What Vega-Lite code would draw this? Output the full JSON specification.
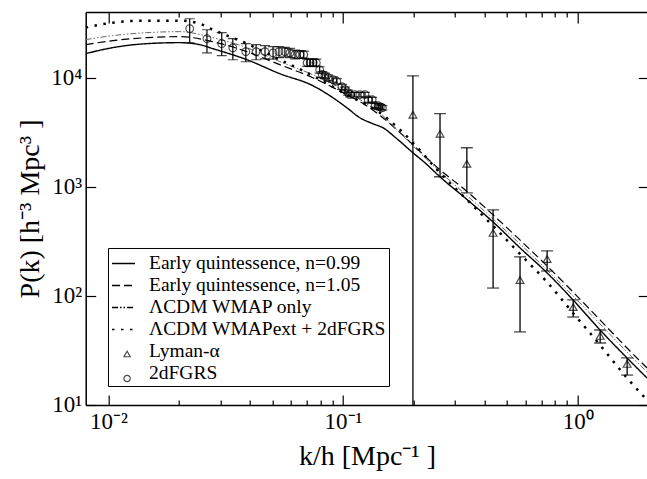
{
  "$schema": "https://vega.github.io/schema/vega-lite/v6.json",
  "width": 562.6,
  "height": 393,
  "autosize": "none",
  "padding": {"left": 85.7, "top": 12, "right": 0, "bottom": 74},
  "config": {
    "view": {"stroke": null},
    "font": "Liberation Serif",
    "legend": {"labelFont": "Liberation Serif"},
    "axis": {"labelFont": "Liberation Serif", "titleFont": "Liberation Serif", "titleFontWeight": "normal", "grid": false, "domainColor": "black", "tickColor": "black", "labelColor": "black", "titleColor": "black", "domainWidth": 1.5, "tickWidth": 1.2, "labelOverlap": false, "labelFlush": false}
  },
  "datasets": {
    "curves": [
      {"series": "Early quintessence, n=0.99", "k": 0.008, "P": 16610},
      {"series": "Early quintessence, n=0.99", "k": 0.01043, "P": 18850},
      {"series": "Early quintessence, n=0.99", "k": 0.01457, "P": 20510},
      {"series": "Early quintessence, n=0.99", "k": 0.02014, "P": 20950},
      {"series": "Early quintessence, n=0.99", "k": 0.0245, "P": 20080},
      {"series": "Early quintessence, n=0.99", "k": 0.02785, "P": 18460},
      {"series": "Early quintessence, n=0.99", "k": 0.03889, "P": 14630},
      {"series": "Early quintessence, n=0.99", "k": 0.05375, "P": 10880},
      {"series": "Early quintessence, n=0.99", "k": 0.07433, "P": 8446},
      {"series": "Early quintessence, n=0.99", "k": 0.08785, "P": 6838},
      {"series": "Early quintessence, n=0.99", "k": 0.1038, "P": 5305},
      {"series": "Early quintessence, n=0.99", "k": 0.1179, "P": 4296},
      {"series": "Early quintessence, n=0.99", "k": 0.134, "P": 3784},
      {"series": "Early quintessence, n=0.99", "k": 0.1478, "P": 3478},
      {"series": "Early quintessence, n=0.99", "k": 0.1696, "P": 2757},
      {"series": "Early quintessence, n=0.99", "k": 0.1985, "P": 2051},
      {"series": "Early quintessence, n=0.99", "k": 0.2233, "P": 1661},
      {"series": "Early quintessence, n=0.99", "k": 0.2587, "P": 1235},
      {"series": "Early quintessence, n=0.99", "k": 0.3307, "P": 793},
      {"series": "Early quintessence, n=0.99", "k": 0.4353, "P": 477},
      {"series": "Early quintessence, n=0.99", "k": 0.5674, "P": 276},
      {"series": "Early quintessence, n=0.99", "k": 0.7398, "P": 163},
      {"series": "Early quintessence, n=0.99", "k": 0.955, "P": 92},
      {"series": "Early quintessence, n=0.99", "k": 1.245, "P": 48.8},
      {"series": "Early quintessence, n=0.99", "k": 1.623, "P": 27},
      {"series": "Early quintessence, n=0.99", "k": 1.975, "P": 17.7},
      {"series": "Early quintessence, n=1.05", "k": 0.008, "P": 20080},
      {"series": "Early quintessence, n=1.05", "k": 0.01043, "P": 21850},
      {"series": "Early quintessence, n=1.05", "k": 0.01457, "P": 23280},
      {"series": "Early quintessence, n=1.05", "k": 0.02014, "P": 23780},
      {"series": "Early quintessence, n=1.05", "k": 0.02785, "P": 21390},
      {"series": "Early quintessence, n=1.05", "k": 0.03889, "P": 17320},
      {"series": "Early quintessence, n=1.05", "k": 0.05375, "P": 13160},
      {"series": "Early quintessence, n=1.05", "k": 0.07433, "P": 10000},
      {"series": "Early quintessence, n=1.05", "k": 0.1038, "P": 6983},
      {"series": "Early quintessence, n=1.05", "k": 0.1239, "P": 5653},
      {"series": "Early quintessence, n=1.05", "k": 0.1478, "P": 4296},
      {"series": "Early quintessence, n=1.05", "k": 0.1696, "P": 3334},
      {"series": "Early quintessence, n=1.05", "k": 0.1985, "P": 2428},
      {"series": "Early quintessence, n=1.05", "k": 0.2587, "P": 1432},
      {"series": "Early quintessence, n=1.05", "k": 0.3307, "P": 939},
      {"series": "Early quintessence, n=1.05", "k": 0.4353, "P": 554},
      {"series": "Early quintessence, n=1.05", "k": 0.5674, "P": 326},
      {"series": "Early quintessence, n=1.05", "k": 0.7398, "P": 188.5},
      {"series": "Early quintessence, n=1.05", "k": 0.955, "P": 108.8},
      {"series": "Early quintessence, n=1.05", "k": 1.245, "P": 60.2},
      {"series": "Early quintessence, n=1.05", "k": 1.623, "P": 33.3},
      {"series": "Early quintessence, n=1.05", "k": 1.975, "P": 21.85},
      {"series": "ΛCDM WMAP only", "k": 0.008, "P": 22320},
      {"series": "ΛCDM WMAP only", "k": 0.01043, "P": 24290},
      {"series": "ΛCDM WMAP only", "k": 0.01457, "P": 25870},
      {"series": "ΛCDM WMAP only", "k": 0.02014, "P": 26420},
      {"series": "ΛCDM WMAP only", "k": 0.02785, "P": 23280},
      {"series": "ΛCDM WMAP only", "k": 0.03889, "P": 18850},
      {"series": "ΛCDM WMAP only", "k": 0.05375, "P": 14030},
      {"series": "ΛCDM WMAP only", "k": 0.07433, "P": 10650},
      {"series": "ΛCDM WMAP only", "k": 0.1038, "P": 7438},
      {"series": "ΛCDM WMAP only", "k": 0.1239, "P": 5898},
      {"series": "ΛCDM WMAP only", "k": 0.1478, "P": 4480},
      {"series": "ΛCDM WMAP only", "k": 0.1696, "P": 3334},
      {"series": "ΛCDM WMAP only", "k": 0.1985, "P": 2377},
      {"series": "ΛCDM WMAP only", "k": 0.2587, "P": 1373},
      {"series": "ΛCDM WMAP only", "k": 0.3307, "P": 863},
      {"series": "ΛCDM WMAP only", "k": 0.4353, "P": 509},
      {"series": "ΛCDM WMAP only", "k": 0.5674, "P": 300},
      {"series": "ΛCDM WMAP only", "k": 0.7398, "P": 173},
      {"series": "ΛCDM WMAP only", "k": 0.955, "P": 100},
      {"series": "ΛCDM WMAP only", "k": 1.245, "P": 55.3},
      {"series": "ΛCDM WMAP only", "k": 1.623, "P": 30.6},
      {"series": "ΛCDM WMAP only", "k": 1.975, "P": 20.1},
      {"series": "ΛCDM WMAPext + 2dFGRS", "k": 0.008, "P": 28750},
      {"series": "ΛCDM WMAPext + 2dFGRS", "k": 0.01043, "P": 31960},
      {"series": "ΛCDM WMAPext + 2dFGRS", "k": 0.01457, "P": 33330},
      {"series": "ΛCDM WMAPext + 2dFGRS", "k": 0.02014, "P": 33330},
      {"series": "ΛCDM WMAPext + 2dFGRS", "k": 0.0245, "P": 31290},
      {"series": "ΛCDM WMAPext + 2dFGRS", "k": 0.02785, "P": 27570},
      {"series": "ΛCDM WMAPext + 2dFGRS", "k": 0.03889, "P": 20510},
      {"series": "ΛCDM WMAPext + 2dFGRS", "k": 0.05375, "P": 14630},
      {"series": "ΛCDM WMAPext + 2dFGRS", "k": 0.07433, "P": 10430},
      {"series": "ΛCDM WMAPext + 2dFGRS", "k": 0.1038, "P": 6983},
      {"series": "ΛCDM WMAPext + 2dFGRS", "k": 0.1435, "P": 4774},
      {"series": "ΛCDM WMAPext + 2dFGRS", "k": 0.1747, "P": 3334},
      {"series": "ΛCDM WMAPext + 2dFGRS", "k": 0.1985, "P": 2533},
      {"series": "ΛCDM WMAPext + 2dFGRS", "k": 0.2587, "P": 1344},
      {"series": "ΛCDM WMAPext + 2dFGRS", "k": 0.3307, "P": 793},
      {"series": "ΛCDM WMAPext + 2dFGRS", "k": 0.4353, "P": 439},
      {"series": "ΛCDM WMAPext + 2dFGRS", "k": 0.5674, "P": 243},
      {"series": "ΛCDM WMAPext + 2dFGRS", "k": 0.7398, "P": 134},
      {"series": "ΛCDM WMAPext + 2dFGRS", "k": 0.955, "P": 69.8},
      {"series": "ΛCDM WMAPext + 2dFGRS", "k": 1.245, "P": 35.5},
      {"series": "ΛCDM WMAPext + 2dFGRS", "k": 1.623, "P": 17.7},
      {"series": "ΛCDM WMAPext + 2dFGRS", "k": 1.975, "P": 11.1}
    ],
    "lya": [
      {"series": "Lyman-α", "k": 0.1985, "P": 4580, "lo": 10, "hi": 10400},
      {"series": "Lyman-α", "k": 0.259, "P": 3060, "lo": 1236, "hi": 4680},
      {"series": "Lyman-α", "k": 0.337, "P": 1625, "lo": 881, "hi": 2280},
      {"series": "Lyman-α", "k": 0.436, "P": 378, "lo": 118, "hi": 615},
      {"series": "Lyman-α", "k": 0.568, "P": 140, "lo": 46.8, "hi": 228},
      {"series": "Lyman-α", "k": 0.741, "P": 218, "lo": 169, "hi": 259},
      {"series": "Lyman-α", "k": 0.957, "P": 79, "lo": 64, "hi": 92},
      {"series": "Lyman-α", "k": 1.247, "P": 43, "lo": 37, "hi": 48.7},
      {"series": "Lyman-α", "k": 1.625, "P": 23.8, "lo": 18.8, "hi": 27}
    ],
    "tdf": [
      {"series": "2dFGRS", "k": 0.0222, "P": 28200, "lo": 20900, "hi": 34700},
      {"series": "2dFGRS", "k": 0.0263, "P": 22800, "lo": 16900, "hi": 27500},
      {"series": "2dFGRS", "k": 0.0304, "P": 20500, "lo": 15900, "hi": 25900},
      {"series": "2dFGRS", "k": 0.0339, "P": 18800, "lo": 14600, "hi": 22800},
      {"series": "2dFGRS", "k": 0.0385, "P": 17300, "lo": 14000, "hi": 20500},
      {"series": "2dFGRS", "k": 0.0426, "P": 17300, "lo": 14600, "hi": 20100},
      {"series": "2dFGRS", "k": 0.0465, "P": 17300, "lo": 14900, "hi": 19700},
      {"series": "2dFGRS", "k": 0.0503, "P": 16900, "lo": 14800, "hi": 19300},
      {"series": "2dFGRS", "k": 0.0533, "P": 17300, "lo": 15300, "hi": 19300},
      {"series": "2dFGRS", "k": 0.0565, "P": 17300, "lo": 15500, "hi": 19000},
      {"series": "2dFGRS", "k": 0.0594, "P": 16900, "lo": 15300, "hi": 18600},
      {"series": "2dFGRS", "k": 0.0624, "P": 16300, "lo": 14900, "hi": 17900},
      {"series": "2dFGRS", "k": 0.0655, "P": 16300, "lo": 15000, "hi": 17700},
      {"series": "2dFGRS", "k": 0.068, "P": 16300, "lo": 15100, "hi": 17500},
      {"series": "2dFGRS", "k": 0.0703, "P": 13700, "lo": 12700, "hi": 14800},
      {"series": "2dFGRS", "k": 0.0724, "P": 13700, "lo": 12700, "hi": 14800},
      {"series": "2dFGRS", "k": 0.0746, "P": 13700, "lo": 12700, "hi": 14800},
      {"series": "2dFGRS", "k": 0.0769, "P": 13700, "lo": 12700, "hi": 14800},
      {"series": "2dFGRS", "k": 0.0795, "P": 11800, "lo": 11000, "hi": 12600},
      {"series": "2dFGRS", "k": 0.0815, "P": 10700, "lo": 10000, "hi": 11400},
      {"series": "2dFGRS", "k": 0.0837, "P": 10400, "lo": 9800, "hi": 11000},
      {"series": "2dFGRS", "k": 0.0863, "P": 10000, "lo": 9400, "hi": 10600},
      {"series": "2dFGRS", "k": 0.0906, "P": 9600, "lo": 9100, "hi": 10200},
      {"series": "2dFGRS", "k": 0.094, "P": 9300, "lo": 8800, "hi": 9800},
      {"series": "2dFGRS", "k": 0.0989, "P": 8260, "lo": 7800, "hi": 8700},
      {"series": "2dFGRS", "k": 0.102, "P": 7760, "lo": 7350, "hi": 8200},
      {"series": "2dFGRS", "k": 0.105, "P": 7280, "lo": 6900, "hi": 7700},
      {"series": "2dFGRS", "k": 0.107, "P": 6990, "lo": 6650, "hi": 7350},
      {"series": "2dFGRS", "k": 0.112, "P": 6990, "lo": 6650, "hi": 7350},
      {"series": "2dFGRS", "k": 0.118, "P": 6990, "lo": 6650, "hi": 7350},
      {"series": "2dFGRS", "k": 0.124, "P": 6990, "lo": 6650, "hi": 7350},
      {"series": "2dFGRS", "k": 0.128, "P": 6280, "lo": 5950, "hi": 6600},
      {"series": "2dFGRS", "k": 0.133, "P": 6280, "lo": 5950, "hi": 6600},
      {"series": "2dFGRS", "k": 0.137, "P": 5530, "lo": 5250, "hi": 5800},
      {"series": "2dFGRS", "k": 0.141, "P": 5530, "lo": 5250, "hi": 5800},
      {"series": "2dFGRS", "k": 0.144, "P": 5400, "lo": 5130, "hi": 5680},
      {"series": "2dFGRS", "k": 0.147, "P": 5300, "lo": 5050, "hi": 5550}
    ]
  },
  "layer": [
    {
      "data": {"name": "curves"},
      "transform": [{"filter": "datum.series === 'Early quintessence, n=0.99'"}],
      "mark": {"type": "line", "clip": true, "interpolate": "monotone", "stroke": "black", "strokeWidth": 1.4},
      "encoding": {
        "x": {"field": "k", "type": "quantitative", "scale": {"type": "log", "domain": [0.008, 2], "nice": false},
          "axis": {"orient": "bottom", "title": "k/h [Mpc⁻¹ ]", "titleFontSize": 28, "titlePadding": 4,
            "values": [0.01, 0.02, 0.03, 0.04, 0.05, 0.06, 0.07, 0.08, 0.09, 0.1, 0.2, 0.3, 0.4, 0.5, 0.6, 0.7, 0.8, 0.9, 1, 2],
            "labelExpr": "datum.value == 0.01 ? '10⁻²' : datum.value == 0.1 ? '10⁻¹' : datum.value == 1 ? '10⁰' : ''",
            "labelFontSize": 23, "labelPadding": 16,
            "tickSize": {"condition": {"test": "datum.value == 0.01 || datum.value == 0.1 || datum.value == 1", "value": -10}, "value": -5}}},
        "y": {"field": "P", "type": "quantitative", "scale": {"type": "log", "domain": [10, 40000], "nice": false},
          "axis": {"orient": "left", "title": "P(k) [h⁻³ Mpc³ ]", "titleFontSize": 28, "titlePadding": 6,
            "values": [10, 100, 1000, 10000],
            "labelExpr": "datum.value == 10 ? '10¹' : datum.value == 100 ? '10²' : datum.value == 1000 ? '10³' : '10⁴'",
            "labelFontSize": 23, "labelPadding": 14, "tickSize": -10}},
        "strokeDash": {"field": "series", "type": "nominal",
          "scale": {"domain": ["Early quintessence, n=0.99", "Early quintessence, n=1.05", "ΛCDM WMAP only", "ΛCDM WMAPext + 2dFGRS", "Lyman-α", "2dFGRS"],
            "range": [[1, 0], [8, 4], [6, 2, 1.5, 2, 1.5, 2], [2.5, 6.5], [0, 1000], [0, 1000]]},
          "legend": {"orient": "none", "legendX": 22.3, "legendY": 236, "title": null,
            "strokeColor": "black", "fillColor": "white", "padding": 3,
            "labelFont": "Liberation Serif", "labelFontSize": 19.5, "labelLimit": 400, "labelColor": "black",
            "rowPadding": -1.5, "symbolType": "stroke", "symbolSize": 529, "symbolStrokeWidth": 1.5, "symbolStrokeColor": "black", "labelOffset": 13}}
      }
    },
    {
      "data": {"name": "curves"},
      "transform": [{"filter": "datum.series === 'Early quintessence, n=1.05'"}],
      "mark": {"type": "line", "clip": true, "interpolate": "monotone", "stroke": "black", "strokeWidth": 1.2},
      "encoding": {
        "x": {"field": "k", "type": "quantitative", "axis": null},
        "y": {"field": "P", "type": "quantitative", "axis": null},
        "strokeDash": {"field": "series", "type": "nominal", "legend": null}
      }
    },
    {
      "data": {"name": "curves"},
      "transform": [{"filter": "datum.series === 'ΛCDM WMAP only'"}],
      "mark": {"type": "line", "clip": true, "interpolate": "monotone", "stroke": "#666", "strokeWidth": 1},
      "encoding": {
        "x": {"field": "k", "type": "quantitative", "axis": null},
        "y": {"field": "P", "type": "quantitative", "axis": null},
        "strokeDash": {"field": "series", "type": "nominal", "legend": null}
      }
    },
    {
      "data": {"name": "curves"},
      "transform": [{"filter": "datum.series === 'ΛCDM WMAPext + 2dFGRS'"}],
      "mark": {"type": "line", "clip": true, "interpolate": "monotone", "stroke": "black", "strokeWidth": 2.5},
      "encoding": {
        "x": {"field": "k", "type": "quantitative", "axis": null},
        "y": {"field": "P", "type": "quantitative", "axis": null},
        "strokeDash": {"field": "series", "type": "nominal", "legend": null}
      }
    },
    {
      "data": {"name": "lya"},
      "mark": {"type": "rule", "clip": true, "stroke": "black", "strokeWidth": 1.3},
      "encoding": {
        "x": {"field": "k", "type": "quantitative",
          "axis": {"orient": "top", "title": null, "labels": false,
            "values": [0.01, 0.02, 0.03, 0.04, 0.05, 0.06, 0.07, 0.08, 0.09, 0.1, 0.2, 0.3, 0.4, 0.5, 0.6, 0.7, 0.8, 0.9, 1, 2],
            "tickSize": {"condition": {"test": "datum.value == 0.01 || datum.value == 0.1 || datum.value == 1", "value": -11}, "value": -5}}},
        "y": {"field": "lo", "type": "quantitative",
          "axis": {"orient": "right", "title": null, "labels": false, "values": [10, 100, 1000, 10000], "tickSize": -10}},
        "y2": {"field": "hi"}
      }
    },
    {
      "data": {"name": "lya"},
      "mark": {"type": "tick", "orient": "horizontal", "clip": true, "color": "black", "size": 12, "thickness": 1.3},
      "encoding": {
        "x": {"field": "k", "type": "quantitative", "axis": null},
        "y": {"field": "hi", "type": "quantitative", "axis": null}
      }
    },
    {
      "data": {"name": "lya"},
      "transform": [{"filter": "datum.lo > 10"}],
      "mark": {"type": "tick", "orient": "horizontal", "clip": true, "color": "black", "size": 12, "thickness": 1.3},
      "encoding": {
        "x": {"field": "k", "type": "quantitative", "axis": null},
        "y": {"field": "lo", "type": "quantitative", "axis": null}
      }
    },
    {
      "data": {"name": "tdf"},
      "mark": {"type": "rule", "clip": true, "stroke": "black", "strokeWidth": 1.2},
      "encoding": {
        "x": {"field": "k", "type": "quantitative", "axis": null},
        "y": {"field": "lo", "type": "quantitative", "axis": null},
        "y2": {"field": "hi"}
      }
    },
    {
      "data": {"name": "tdf"},
      "mark": {"type": "tick", "orient": "horizontal", "clip": true, "color": "black", "size": 10, "thickness": 1.2},
      "encoding": {
        "x": {"field": "k", "type": "quantitative", "axis": null},
        "y": {"field": "hi", "type": "quantitative", "axis": null}
      }
    },
    {
      "data": {"name": "tdf"},
      "mark": {"type": "tick", "orient": "horizontal", "clip": true, "color": "black", "size": 10, "thickness": 1.2},
      "encoding": {
        "x": {"field": "k", "type": "quantitative", "axis": null},
        "y": {"field": "lo", "type": "quantitative", "axis": null}
      }
    },
    {
      "data": {"name": "lya"},
      "mark": {"type": "point", "filled": false, "stroke": "black", "strokeWidth": 1.2, "size": 60},
      "encoding": {
        "x": {"field": "k", "type": "quantitative", "axis": null},
        "y": {"field": "P", "type": "quantitative", "axis": null},
        "shape": {"field": "series", "type": "nominal",
          "scale": {"domain": ["Lyman-α", "2dFGRS"], "range": ["triangle-up", "circle"]},
          "legend": {"orient": "none", "legendX": 37.4, "legendY": 338, "title": null, "padding": 0,
            "labelExpr": "''", "labelFontSize": 1, "labelOffset": 0, "labelLimit": 1,
            "symbolSize": 40, "symbolStrokeWidth": 1.2, "symbolStrokeColor": "black", "symbolFillColor": "transparent",
            "rowPadding": 12.5}}
      }
    },
    {
      "data": {"name": "tdf"},
      "mark": {"type": "point", "filled": false, "stroke": "black", "strokeWidth": 1.1, "size": 60},
      "encoding": {
        "x": {"field": "k", "type": "quantitative", "axis": null},
        "y": {"field": "P", "type": "quantitative", "axis": null},
        "shape": {"field": "series", "type": "nominal", "legend": null}
      }
    }
  ],
  "resolve": {"axis": {"x": "independent", "y": "independent"}}
}
